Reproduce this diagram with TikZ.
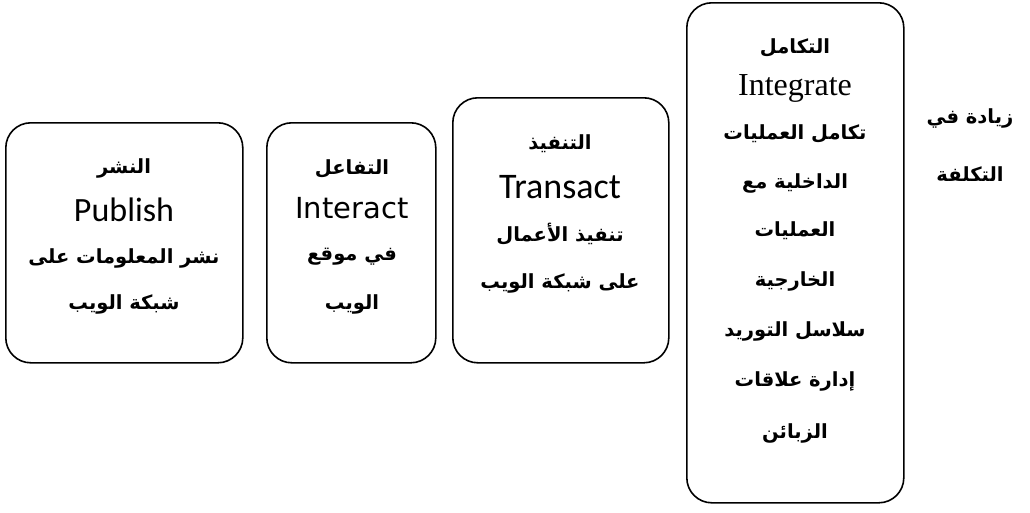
\documentclass[tikz,border=0pt]{standalone}
\usepackage{fontspec}
\TeXXeTstate=1
\newfontfamily\arabicfont[Script=Arabic]{DejaVu Sans}
\newfontfamily\calfont{Carlito}
\newfontfamily\tahfont{DejaVu Sans}
\newfontfamily\timesfont{Liberation Serif}
\newcommand{\ar}[1]{\arabicfont\bfseries\beginR #1\endR}
\begin{document}
\begin{tikzpicture}[x=1pt,y=-1pt,
  stage/.style={draw=black,line width=1.6pt,rounded corners=25pt,
    inner sep=0pt,anchor=north west},
  artext/.style={inner sep=0pt,font=\fontsize{19.5}{22}\selectfont},
  entext/.style={inner sep=0pt}]
\useasboundingbox[fill=white] (0,0) rectangle (1030,512);

% four stages, growing to the right
\node[stage,minimum width=237pt,minimum height=240pt] (publish) at (5,122) {};
\node[stage,minimum width=169pt,minimum height=240pt] (interact) at (266,122) {};
\node[stage,minimum width=216pt,minimum height=265pt] (transact) at (452,97) {};
\node[stage,minimum width=217pt,minimum height=500pt] (integrate) at (686,2) {};

% Publish
\node[artext] (p1) at (124,168) {\ar{النشر}};
\node[entext,font=\calfont\fontsize{34}{38}\selectfont] (p2) at (124,210) {Publish};
\node[artext] (p3) at (124,258) {\ar{نشر المعلومات على}};
\node[artext] (p4) at (124,304) {\ar{شبكة الويب}};

% Interact
\node[artext] (i1) at (352,169) {\ar{التفاعل}};
\node[entext,font=\tahfont\fontsize{29}{32}\selectfont] (i2) at (352,208) {Interact};
\node[artext] (i3) at (352,257) {\ar{في موقع}};
\node[artext] (i4) at (352,304) {\ar{الويب}};

% Transact
\node[artext] (t1) at (560,144) {\ar{التنفيذ}};
\node[entext,font=\calfont\fontsize{36}{40}\selectfont] (t2) at (560,187) {Transact};
\node[artext] (t3) at (560,234) {\ar{تنفيذ الأعمال}};
\node[artext] (t4) at (560,283) {\ar{على شبكة الويب}};

% Integrate
\node[artext] (g1) at (795,48) {\ar{التكامل}};
\node[entext,font=\timesfont\fontsize{32}{35}\selectfont] (g2) at (795,88) {Integrate};
\node[artext] (g3) at (795,134) {\ar{تكامل العمليات}};
\node[artext] (g4) at (795,183) {\ar{الداخلية مع}};
\node[artext] (g5) at (795,231) {\ar{العمليات}};
\node[artext] (g6) at (795,281) {\ar{الخارجية}};
\node[artext] (g7) at (795,331) {\ar{سلاسل التوريد}};
\node[artext] (g8) at (795,381) {\ar{إدارة علاقات}};
\node[artext] (g9) at (795,433) {\ar{الزبائن}};

% cost label
\node[artext] (c1) at (970,118) {\ar{زيادة في}};
\node[artext] (c2) at (970,174) {\ar{التكلفة}};
\end{tikzpicture}
\end{document}
